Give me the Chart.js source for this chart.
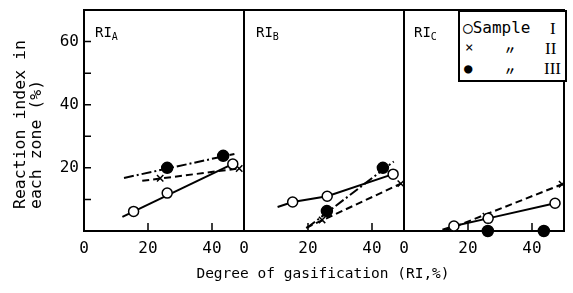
<!DOCTYPE html>
<html>
<head>
<meta charset="utf-8">
<script src="https://cdn.jsdelivr.net/npm/chart.js@4/dist/chart.umd.min.js"></script>
<style>
  html, body { margin: 0; padding: 0; background: #fff; }
  #wrap { position: relative; width: 573px; height: 293px; overflow: hidden; background: #fff; }
  .pc { position: absolute; top: 0; }
  .txt { position: absolute; font-family: "DejaVu Sans Mono", "Liberation Mono", monospace; color: #000; white-space: nowrap; }
  .rom { font-family: "Liberation Serif", "DejaVu Serif", serif; }
</style>
</head>
<body>
<div id="wrap">
  <canvas id="cA" class="pc" width="245" height="293" style="left:0px"></canvas>
  <canvas id="cB" class="pc" width="180" height="293" style="left:224px"></canvas>
  <canvas id="cC" class="pc" width="181" height="293" style="left:384px"></canvas>

  <div class="txt" style="left:95px;top:24px;font-size:14px;">RI<span style="font-size:10px;position:relative;top:3px;">A</span></div>
  <div class="txt" style="left:256px;top:24px;font-size:14px;">RI<span style="font-size:10px;position:relative;top:3px;">B</span></div>
  <div class="txt" style="left:414px;top:24px;font-size:14px;">RI<span style="font-size:10px;position:relative;top:3px;">C</span></div>

  <div class="txt" style="left:12px;top:209px;font-size:16.5px;line-height:16px;transform:rotate(-90deg);transform-origin:0 0;">Reaction index in<br>each zone (%)</div>
  <div class="txt" style="left:0;width:646px;text-align:center;top:265px;font-size:14.5px;">Degree of gasification (RI,%)</div>

  <div style="position:absolute;left:458px;top:10px;width:105px;height:68px;border:2px solid #000;background:#fff;">
    <div class="txt" style="left:3px;top:8px;font-size:16px;line-height:16px;">○Sample</div>
    <div class="txt rom" style="left:90px;top:9px;font-size:17px;line-height:16px;">I</div>
    <div class="txt" style="left:5px;top:27px;font-size:14px;line-height:16px;">×</div>
    <div class="txt" style="left:44px;top:30px;font-size:12px;line-height:16px;font-family:'Noto Sans CJK JP';font-weight:bold;">〃</div>
    <div class="txt rom" style="left:85px;top:29px;font-size:17px;line-height:16px;">II</div>
    <div class="txt" style="left:4px;top:48px;font-size:14px;line-height:16px;">●</div>
    <div class="txt" style="left:44px;top:51px;font-size:12px;line-height:16px;font-family:'Noto Sans CJK JP';font-weight:bold;">〃</div>
    <div class="txt rom" style="left:84px;top:49px;font-size:17px;line-height:16px;">III</div>
  </div>
</div>
<script>
// ---- axis ticks ----
const xTicks = [0, 20, 40];
const xTickMarks = [20, 40];
const yTickMarks = [10, 20, 30, 40, 50, 60];
const yLabels = [20, 40, 60];

// ---- Panel RI_A ----
const aI_x = [15.5, 26, 46.5],   aI_y = [6.2, 12, 21.2];
const aI_lineX = [12, 48],        aI_lineY = [4.5, 22];
const aII_x = [23.8, 48.5],       aII_y = [16.7, 19.8];
const aII_lineX = [18.2, 48.5],   aII_lineY = [15.9, 19.8];
const aIII_x = [26, 43.5],        aIII_y = [20, 23.8];
const aIII_lineX = [12.5, 47],    aIII_lineY = [16.8, 24.4];

// ---- Panel RI_B ----
const bI_x = [15.2, 26, 46.6],    bI_y = [9.2, 11, 18];
const bI_lineX = [10.5, 15.2, 26, 46.6], bI_lineY = [7.6, 9.2, 11, 18];
const bII_x = [24.4, 49],         bII_y = [3.5, 15];
const bII_lineX = [19.4, 49],     bII_lineY = [1, 15];
const bIII_x = [25.9, 43.4],      bIII_y = [6.3, 20];
const bIII_lineX = [19.7, 46.8],  bIII_lineY = [1, 22];

// ---- Panel RI_C ----
const cI_x = [15.6, 26.3, 47.2],  cI_y = [1.6, 4, 8.8];
const cI_lineX = [12, 15.6, 26.3, 47.2], cI_lineY = [0.4, 1.6, 4, 8.8];
const cII_x = [25.6, 49.4],       cII_y = [4.7, 14.8];
const cII_lineX = [12.5, 49.4],   cII_lineY = [0, 14.8];
const cIII_x = [26.2, 43.7],      cIII_y = [0, 0];

const zip = (xs, ys) => xs.map((x, i) => ({ x: x, y: ys[i] }));
const FONT = "'DejaVu Sans Mono', 'Liberation Mono', monospace";

function lineDs(xs, ys, dash) {
  return { data: zip(xs, ys), showLine: true, pointRadius: 0, borderColor: '#000', borderWidth: 2,
           borderDash: dash, order: 2, clip: false };
}
function ptsDs(xs, ys, kind) {
  const base = { data: zip(xs, ys), showLine: false, order: 0, clip: false, borderColor: '#000', borderWidth: 1.5 };
  if (kind === 'I') return Object.assign(base, { pointStyle: 'circle', pointRadius: 5, backgroundColor: '#fff' });
  if (kind === 'II') return Object.assign(base, { pointStyle: 'crossRot', pointRadius: 4.5, backgroundColor: '#000' });
  return Object.assign(base, { pointStyle: 'circle', pointRadius: 5.5, backgroundColor: '#000' });
}
const DASH = [7, 4];
const DASHDOT = [10, 3, 2, 3];

const framePlugin = {
  id: 'frame',
  beforeDatasetsDraw(chart, args, opts) {
    const { ctx, chartArea: a, scales } = chart;
    ctx.save();
    ctx.strokeStyle = '#000';
    ctx.lineWidth = 2;
    ctx.strokeRect(a.left, a.top, a.right - a.left, a.bottom - a.top);
    ctx.lineWidth = 1.5;
    ctx.beginPath();
    xTickMarks.forEach(v => {
      const px = scales.x.getPixelForValue(v);
      ctx.moveTo(px, a.bottom); ctx.lineTo(px, a.bottom - 8);
    });
    if (opts.yTicks) {
      yTickMarks.forEach(v => {
        const py = scales.y.getPixelForValue(v);
        ctx.moveTo(a.left, py); ctx.lineTo(a.left + 7, py);
      });
    }
    ctx.stroke();
    ctx.restore();
  }
};

function makeChart(id, datasets, padLeft, padRight, showY) {
  return new Chart(document.getElementById(id), {
    type: 'scatter',
    data: { datasets: datasets },
    plugins: [framePlugin],
    options: {
      responsive: false,
      animation: false,
      events: [],
      layout: { autoPadding: false, padding: { top: 10, left: padLeft, right: padRight, bottom: 0 } },
      plugins: { legend: { display: false }, tooltip: { enabled: false }, frame: { yTicks: showY } },
      scales: {
        x: {
          type: 'linear', min: 0, max: 50,
          afterBuildTicks: s => { s.ticks = xTicks.map(v => ({ value: v })); },
          ticks: { color: '#000', font: { family: FONT, size: 16 }, padding: 8, maxRotation: 0, autoSkip: false },
          grid: { display: false, drawTicks: false },
          border: { display: false },
          afterFit: s => { s.height = 62; s.paddingLeft = 0; s.paddingRight = 0; }
        },
        y: {
          type: 'linear', min: 0, max: 70, display: showY,
          afterBuildTicks: s => { s.ticks = yLabels.map(v => ({ value: v })); },
          ticks: { color: '#000', font: { family: FONT, size: 16 }, padding: 5 },
          grid: { display: false, drawTicks: false },
          border: { display: false },
          afterFit: s => { if (showY) { s.width = 84; } s.paddingTop = 0; s.paddingBottom = 0; }
        }
      }
    }
  });
}

makeChart('cA', [
  lineDs(aI_lineX, aI_lineY, []), lineDs(aII_lineX, aII_lineY, DASH), lineDs(aIII_lineX, aIII_lineY, DASHDOT),
  ptsDs(aI_x, aI_y, 'I'), ptsDs(aII_x, aII_y, 'II'), ptsDs(aIII_x, aIII_y, 'III')
], 0, 1, true);

makeChart('cB', [
  lineDs(bI_lineX, bI_lineY, []), lineDs(bII_lineX, bII_lineY, DASH), lineDs(bIII_lineX, bIII_lineY, DASHDOT),
  ptsDs(bI_x, bI_y, 'I'), ptsDs(bII_x, bII_y, 'II'), ptsDs(bIII_x, bIII_y, 'III')
], 20, 0, false);

makeChart('cC', [
  lineDs(cI_lineX, cI_lineY, []), lineDs(cII_lineX, cII_lineY, DASH),
  ptsDs(cI_x, cI_y, 'I'), ptsDs(cII_x, cII_y, 'II'), ptsDs(cIII_x, cIII_y, 'III')
], 20, 1, false);
</script>
</body>
</html>
